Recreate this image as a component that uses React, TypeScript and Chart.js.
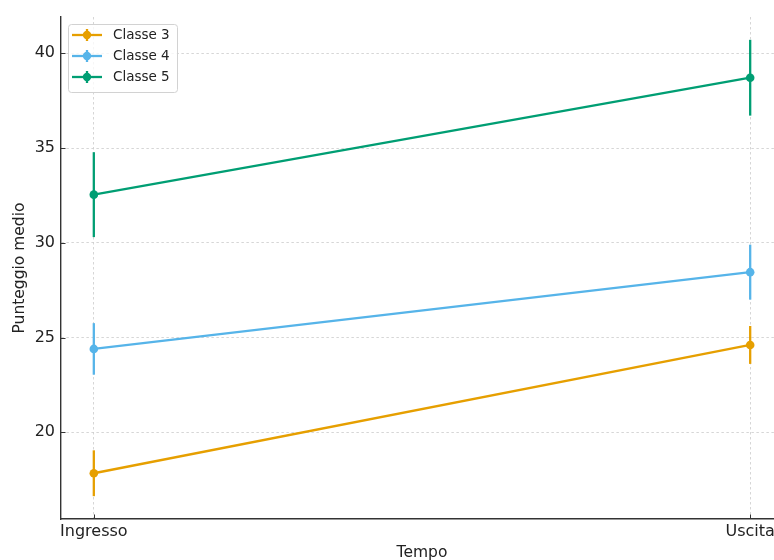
import React, { useEffect, useRef } from "react";
import { Chart, registerables } from "chart.js";

Chart.register(...registerables);

// Mean score per class at entry and exit, with the standard deviation drawn as error bars
const timepoints = ["Ingresso", "Uscita"];
const classLabels = ["Classe 3", "Classe 4", "Classe 5"];
const classe3Mean = [17.84, 24.61];
const classe3Err = [1.21, 1.0];
const classe4Mean = [24.4, 28.45];
const classe4Err = [1.36, 1.45];
const classe5Mean = [32.54, 38.71];
const classe5Err = [2.24, 2.0];
const yTickValues = [20, 25, 30, 35, 40];

const seriesColors = ["#E69F00", "#56B4E9", "#009E73"];
const FONT = "'DejaVu Sans', 'Liberation Sans', sans-serif";
const TEXT = "#222222";
const SPINE = "#333333";
const GRID = "#cccccc";

const CANVAS_W = 800;
const CANVAS_H = 575;

const means = [classe3Mean, classe4Mean, classe5Mean];
const errs = [classe3Err, classe4Err, classe5Err];

// axis limits with a 5% margin around the data, errors included
const lows = means.flatMap((m, s) => m.map((v, i) => v - errs[s][i]));
const highs = means.flatMap((m, s) => m.map((v, i) => v + errs[s][i]));
const yLo = Math.min(...lows);
const yHi = Math.max(...highs);
const yPad = (yHi - yLo) * 0.05;
const xPad = (timepoints.length - 1) * 0.05;

const errorBarPlugin = {
  id: "errorBars",
  beforeDatasetsDraw(chart: any) {
    const { ctx } = chart;
    const yScale = chart.scales.y;
    chart.data.datasets.forEach((ds: any, di: number) => {
      const meta = chart.getDatasetMeta(di);
      ctx.save();
      ctx.strokeStyle = ds.borderColor;
      ctx.lineWidth = 2.3;
      ds.data.forEach((pt: any, i: number) => {
        const e = ds.errors[i];
        const x = meta.data[i].x;
        ctx.beginPath();
        ctx.moveTo(x, yScale.getPixelForValue(pt.y - e));
        ctx.lineTo(x, yScale.getPixelForValue(pt.y + e));
        ctx.stroke();
      });
      ctx.restore();
    });
  },
};

// inward tick marks on the left and bottom spines
const tickMarkPlugin = {
  id: "tickMarks",
  afterDatasetsDraw(chart: any) {
    const { ctx, chartArea } = chart;
    const len = 4.5;
    ctx.save();
    ctx.strokeStyle = SPINE;
    ctx.lineWidth = 1;
    chart.scales.y.ticks.forEach((t: any) => {
      const y = Math.round(chart.scales.y.getPixelForValue(t.value)) + 0.5;
      ctx.beginPath();
      ctx.moveTo(chartArea.left, y);
      ctx.lineTo(chartArea.left + len, y);
      ctx.stroke();
    });
    chart.scales.x.ticks.forEach((t: any) => {
      const x = Math.round(chart.scales.x.getPixelForValue(t.value)) + 0.5;
      ctx.beginPath();
      ctx.moveTo(x, chartArea.bottom);
      ctx.lineTo(x, chartArea.bottom - len);
      ctx.stroke();
    });
    ctx.restore();
  },
};

const legendPlugin = {
  id: "errorLegend",
  afterDraw(chart: any) {
    const { ctx, chartArea } = chart;
    const boxX = chartArea.left + 7;
    const boxY = chartArea.top + 7;
    const boxW = 109;
    const boxH = 68;
    const rowH = 21;
    ctx.save();
    ctx.beginPath();
    ctx.roundRect(boxX + 0.5, boxY + 0.5, boxW, boxH, 3);
    ctx.fillStyle = "rgba(255,255,255,0.8)";
    ctx.fill();
    ctx.strokeStyle = "#d2d2d2";
    ctx.lineWidth = 1;
    ctx.stroke();
    ctx.font = `13.5px ${FONT}`;
    ctx.textBaseline = "middle";
    chart.data.datasets.forEach((ds: any, i: number) => {
      const y = boxY + 11 + i * rowH;
      const x0 = boxX + 4;
      const x1 = boxX + 34;
      const xm = (x0 + x1) / 2;
      ctx.strokeStyle = ds.borderColor;
      ctx.fillStyle = ds.borderColor;
      ctx.lineWidth = 2.3;
      ctx.beginPath();
      ctx.moveTo(x0, y);
      ctx.lineTo(x1, y);
      ctx.stroke();
      ctx.beginPath();
      ctx.moveTo(xm, y - 6);
      ctx.lineTo(xm, y + 6);
      ctx.stroke();
      ctx.beginPath();
      ctx.arc(xm, y, 4.2, 0, Math.PI * 2);
      ctx.fill();
      ctx.fillStyle = TEXT;
      ctx.fillText(ds.label, boxX + 45, y + 0.5);
    });
    ctx.restore();
  },
};

export default function App() {
  const canvasRef = useRef<HTMLCanvasElement | null>(null);

  useEffect(() => {
    const canvas = canvasRef.current;
    if (!canvas) return;

    const datasets = classLabels.map((label, s) => ({
      label,
      data: means[s].map((v, i) => ({ x: i, y: v })),
      errors: errs[s],
      borderColor: seriesColors[s],
      backgroundColor: seriesColors[s],
      pointBackgroundColor: seriesColors[s],
      pointBorderWidth: 0,
      pointRadius: 4.3,
      borderWidth: 2.3,
      tension: 0,
      fill: false,
    }));

    const chart = new Chart(canvas, {
      type: "line",
      data: { datasets } as any,
      options: {
        animation: false,
        responsive: false,
        devicePixelRatio: 1,
        layout: { padding: { top: 17, right: 17, left: 0, bottom: 0 } },
        plugins: {
          legend: { display: false },
          tooltip: { enabled: false },
        },
        scales: {
          x: {
            type: "linear",
            min: -xPad,
            max: timepoints.length - 1 + xPad,
            afterBuildTicks: (scale: any) => {
              scale.ticks = timepoints.map((_, i) => ({ value: i }));
            },
            afterFit: (scale: any) => {
              scale.height = CANVAS_H - 519;
            },
            ticks: {
              callback: (v: any) => timepoints[v] ?? "",
              font: { family: FONT, size: 16 },
              color: TEXT,
              padding: 3,
              maxRotation: 0,
              autoSkip: false,
            },
            grid: { color: GRID, lineWidth: 0.8, drawTicks: false },
            border: { display: true, color: SPINE, width: 1.4, dash: [2.5, 2.5] },
            title: {
              display: true,
              text: "Tempo",
              font: { family: FONT, size: 15.5 },
              color: TEXT,
              padding: { top: 0, bottom: 13 },
            },
          },
          y: {
            type: "linear",
            min: yLo - yPad,
            max: yHi + yPad,
            afterBuildTicks: (scale: any) => {
              scale.ticks = yTickValues.map((v) => ({ value: v }));
            },
            afterFit: (scale: any) => {
              scale.width = 61;
            },
            ticks: {
              callback: (v: any) => String(v),
              font: { family: FONT, size: 16 },
              color: TEXT,
              padding: 6,
            },
            grid: { color: GRID, lineWidth: 0.8, drawTicks: false },
            border: { display: true, color: SPINE, width: 1.4, dash: [2.5, 2.5] },
            title: {
              display: true,
              text: "Punteggio medio",
              font: { family: FONT, size: 15.5 },
              color: TEXT,
              padding: { top: 10.7, bottom: 0 },
            },
          },
        },
      } as any,
      plugins: [errorBarPlugin, tickMarkPlugin, legendPlugin],
    });

    return () => chart.destroy();
  }, []);

  return (
    <div
      style={{
        position: "fixed",
        left: 0,
        top: 0,
        width: 774,
        height: 560,
        overflow: "hidden",
        background: "#ffffff",
      }}
    >
      <canvas
        ref={canvasRef}
        width={CANVAS_W}
        height={CANVAS_H}
        style={{ display: "block", width: CANVAS_W, height: CANVAS_H }}
      />
    </div>
  );
}
